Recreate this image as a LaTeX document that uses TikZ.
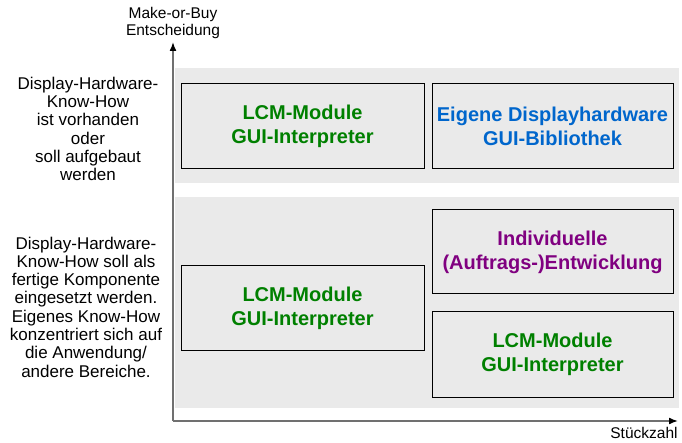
\documentclass[tikz,border=0pt]{standalone}
\usepackage{fontspec}
\setmainfont{Liberation Sans}
\usetikzlibrary{arrows.meta,positioning}
\definecolor{bandgray}{HTML}{EAEAEA}
\definecolor{axisgray}{HTML}{707070}
\definecolor{lcmgreen}{HTML}{008000}
\definecolor{ownblue}{HTML}{0066CC}
\definecolor{devpurple}{HTML}{800080}
\tikzstyle{choice} = [rectangle, draw=black, line width=1pt, fill=bandgray, text centered, align=center, minimum width=242pt, minimum height=85pt, font=\fontsize{20}{24}\selectfont\bfseries]
\tikzstyle{sidetext} = [align=center, inner sep=0pt, font=\fontsize{17}{18.3}\selectfont]
\tikzstyle{axislabel} = [align=center, inner sep=0pt, font=\fontsize{15.5}{17}\selectfont]
\tikzstyle{axis} = [draw=axisgray, line width=1.6pt, -{Latex[black,length=9pt,width=7pt]}]

\begin{document}
\begin{tikzpicture}[x=1pt, y=-1pt]
		\useasboundingbox (0,0) rectangle (682,443);
		% grey bands
		\fill[bandgray] (175,68) rectangle (679,183);
		\fill[bandgray] (175,197) rectangle (679,408);
		% axes
		\coordinate (origin) at (173,421);
		\coordinate (ytip) at (173,42);
		\coordinate (xtip) at (678,421);
		\draw[axis] (origin) -- (ytip);
		\draw[axis] (origin) -- (xtip);
		\node [axislabel, above=3pt of ytip] (ylabel) {Make-or-Buy\\Entscheidung};
		\node [axislabel] (xlabel) at (644,433) {Stückzahl};
		% left descriptions
		\node [sidetext] (knowhowown) at (88,129) {Display-Hardware-\\Know-How\\ist vorhanden\\oder\\soll aufgebaut\\werden};
		\node [sidetext] (knowhowbuy) at (86,307) {Display-Hardware-\\Know-How soll als\\fertige Komponente\\eingesetzt werden.\\Eigenes Know-How\\konzentriert sich auf\\die Anwendung/\\andere Bereiche.};
		% boxes
		\node [choice, text=lcmgreen, minimum width=243pt] (lcmtop) at (302.5,126.5) {LCM-Module\\GUI-Interpreter};
		\node [choice, text=ownblue, minimum width=241pt] (ownhw) at (552.5,126.5) {Eigene Displayhardware\\GUI-Bibliothek};
		\node [choice, text=lcmgreen, minimum width=243pt, minimum height=84pt] (lcmleft) at (302.5,308) {LCM-Module\\GUI-Interpreter};
		\node [choice, text=devpurple, minimum width=241pt, minimum height=84pt] (custom) at (552.5,252) {Individuelle\\(Auftrags-)Entwicklung};
		\node [choice, text=lcmgreen, minimum width=241pt] (lcmright) at (552.5,354.5) {LCM-Module\\GUI-Interpreter};
	\end{tikzpicture}
\end{document}
